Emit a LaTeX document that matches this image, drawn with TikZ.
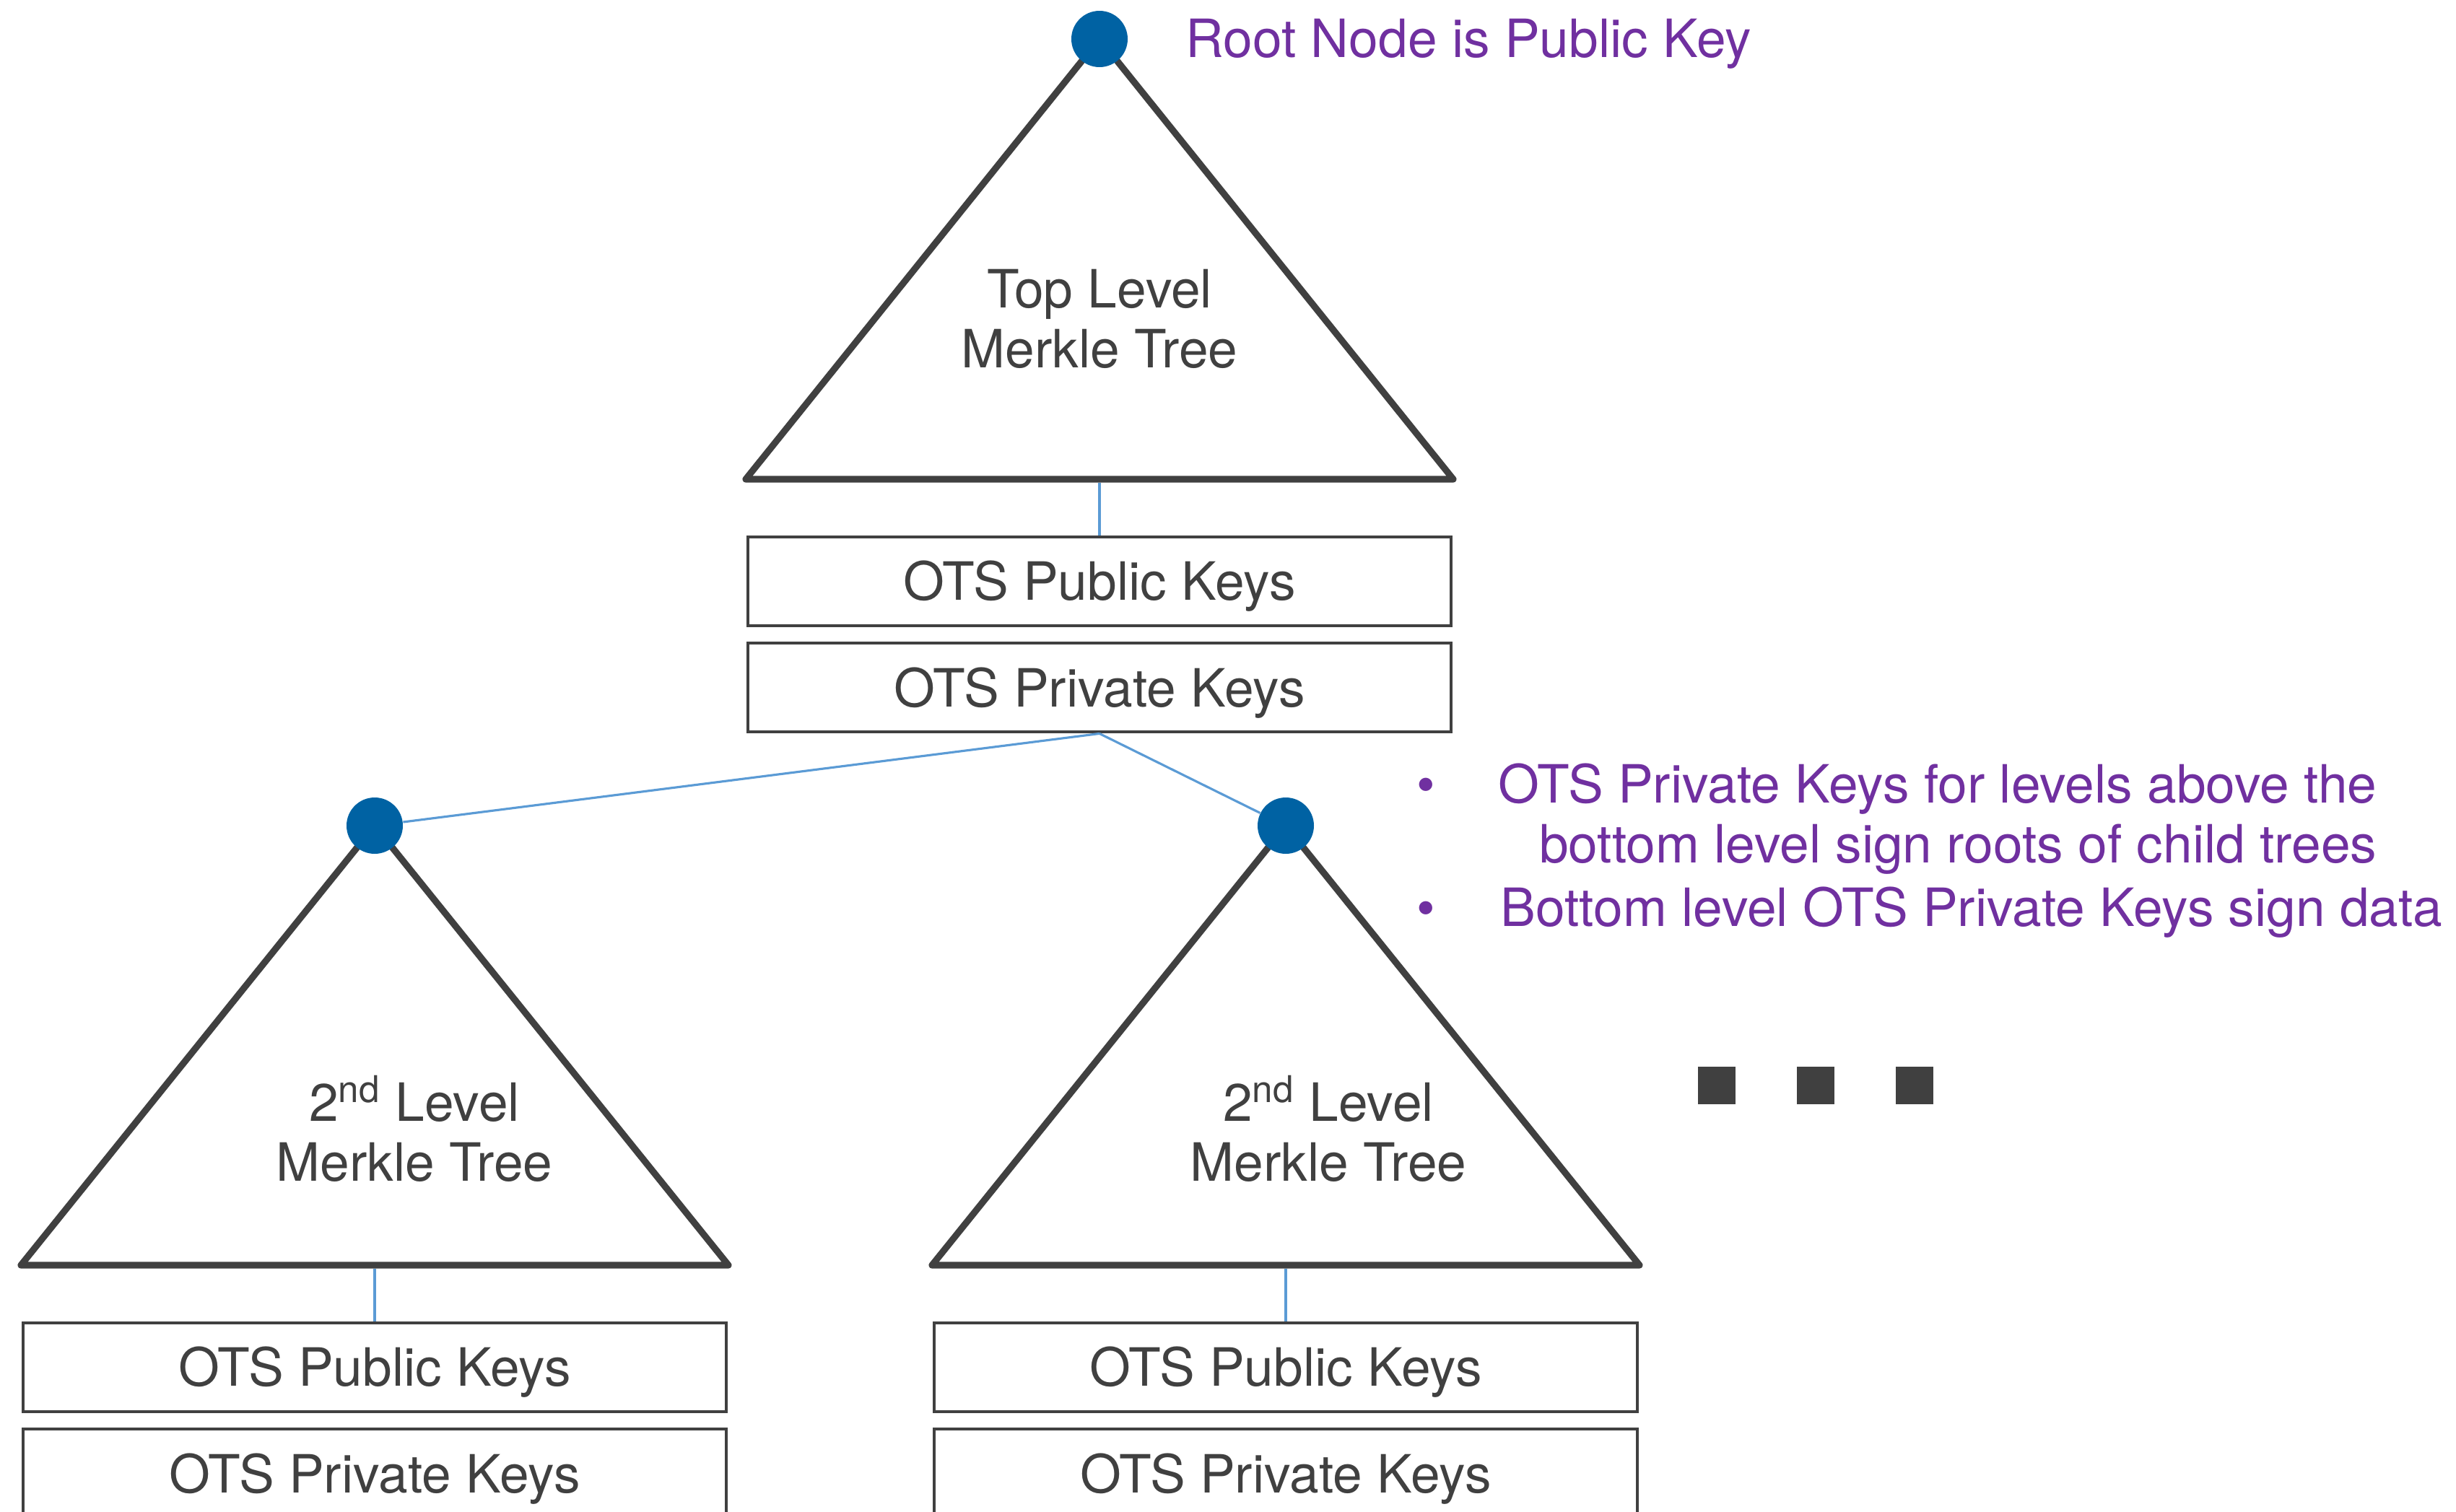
\documentclass[tikz,border=0pt]{standalone}
\usepackage{fontspec}
\setmainfont{TeX Gyre Heros}
\usepackage{tikz}
\usetikzlibrary{positioning}
\definecolor{inkDark}{HTML}{404040}
\definecolor{dotBlue}{HTML}{0062A3}
\definecolor{linkBlue}{HTML}{5B9BD5}
\definecolor{notePurple}{HTML}{7030A0}
\newcommand{\keyfont}{\fontsize{20.8pt}{23.6pt}\selectfont}
\tikzset{
  tree/.style    = {draw=inkDark, line width=2.6pt, line join=round},
  rootdot/.style = {circle, fill=dotBlue, minimum size=7.8mm, inner sep=0pt},
  keybox/.style  = {draw=inkDark, line width=1.2pt, minimum width=97.4mm,
                    minimum height=12.3mm, inner sep=0pt, font=\keyfont, text=inkDark,
                    text height=14.9pt, text depth=0pt},
  treelbl/.style = {font=\keyfont, text=inkDark, align=center, inner sep=0pt},
  link/.style    = {draw=linkBlue, line width=0.9pt},
  note/.style    = {font=\keyfont, text=notePurple, inner sep=0pt},
  more/.style    = {fill=inkDark, minimum size=5.2mm, inner sep=0pt}
}

\begin{document}
\begin{tikzpicture}
  \useasboundingbox (0,0) rectangle (34.02,-20.95);
  \clip (0,0) rectangle (34.02,-20.95);

  % top level tree
  \coordinate (topApex) at (15.23,-0.54);
  \coordinate (topBase) at (15.23,-6.64);
  \draw[tree] (topApex) -- ++(-4.90,-6.10) -- ++(9.80,0) -- cycle;
  \node[rootdot] (topRoot) at (topApex) {};
  \node[note, anchor=base west] (rootNote) at (16.42,-0.79) {Root Node is Public Key};
  \node[treelbl] (topLbl) at (15.23,-4.42) {Top Level\\Merkle Tree};
  \node[keybox, below=0.78cm of topBase] (topPub) {OTS Public Keys};
  \node[keybox, below=0.20cm of topPub] (topPriv) {OTS Private Keys};

  % 2nd level trees
  \coordinate (leftApex) at (5.19,-11.44);
  \coordinate (leftBase) at (5.19,-17.53);
  \draw[tree] (leftApex) -- ++(-4.90,-6.09) -- ++(9.80,0) -- cycle;
  \node[rootdot] (leftRoot) at (leftApex) {};
  \node[treelbl] (leftLbl) at (5.74,-15.64) {2\textsuperscript{nd} Level\\Merkle Tree};
  \node[keybox, below=0.78cm of leftBase] (leftPub) {OTS Public Keys};
  \node[keybox, below=0.20cm of leftPub] (leftPriv) {OTS Private Keys};

  \coordinate (rightApex) at (17.81,-11.44);
  \coordinate (rightBase) at (17.81,-17.53);
  \draw[tree] (rightApex) -- ++(-4.90,-6.09) -- ++(9.80,0) -- cycle;
  \node[rootdot] (rightRoot) at (rightApex) {};
  \node[treelbl] (rightLbl) at (18.40,-15.64) {2\textsuperscript{nd} Level\\Merkle Tree};
  \node[keybox, below=0.78cm of rightBase] (rightPub) {OTS Public Keys};
  \node[keybox, below=0.20cm of rightPub] (rightPriv) {OTS Private Keys};

  % links
  \draw[link, shorten <=1.3pt] (topBase) -- (topPub);
  \draw[link, shorten <=1.3pt] (leftBase) -- (leftPub);
  \draw[link, shorten <=1.3pt] (rightBase) -- (rightPub);
  \draw[link] (topPriv.south) -- (leftRoot);
  \draw[link] (topPriv.south) -- (rightRoot);

  % more trees
  \foreach \x [count=\i] in {23.78,25.15,26.52}
    \node[more] (more\i) at (\x,-15.04) {};

  % notes
  \node[note, anchor=base] (bullet1) at (19.75,-11.12) {\textbullet};
  \node[note, anchor=base east] (note1) at (32.93,-11.12) {OTS Private Keys for levels above the};
  \node[note, anchor=base east] (note1b) at (32.93,-11.95) {bottom level sign roots of child trees};
  \node[note, anchor=base] (bullet2) at (19.75,-12.83) {\textbullet};
  \node[note, anchor=base west] (note2) at (20.78,-12.83) {Bottom level OTS Private Keys sign data};
\end{tikzpicture}
\end{document}
